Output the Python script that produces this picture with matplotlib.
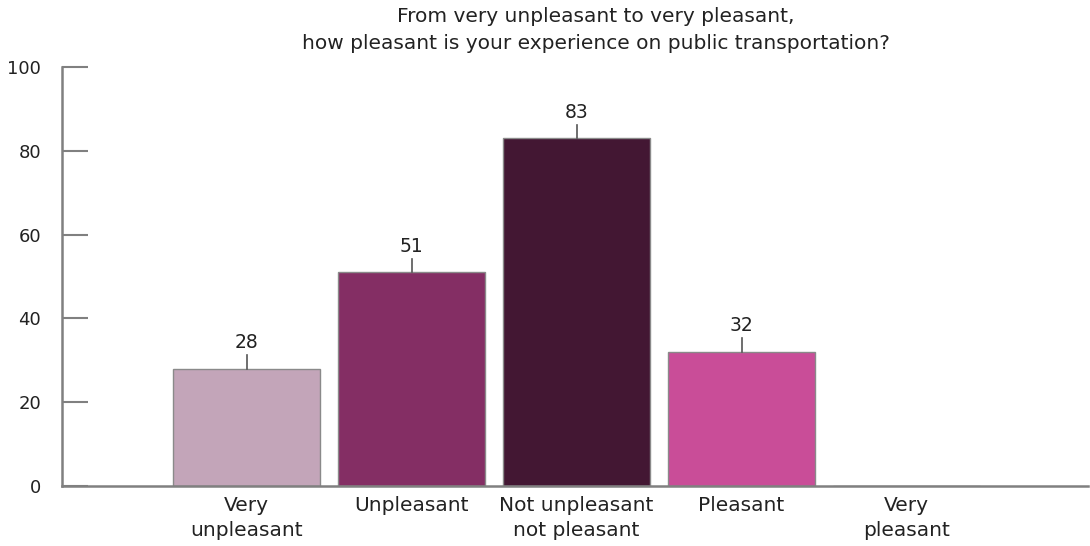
import numpy as np
import matplotlib.pyplot as plt

categories = ['Very\nunpleasant', 'Unpleasant', 'Not unpleasant\nnot pleasant', 'Pleasant', 'Very\npleasant']
values = [28, 51, 83, 32, 0]
colors = ['#C3A5B9', '#842E64', '#431733', '#C94D98', '#E0E0E0']

plt.rcParams['font.family'] = ['DejaVu Sans']

fig = plt.figure(figsize=(10.9, 5.46), dpi=100)
ax = fig.add_axes([0.057, 0.110, 0.941, 0.767])

x = np.arange(len(categories))
bars = ax.bar(x, values, width=0.89, color=colors, edgecolor='#8a8a8a', linewidth=1)

for xi, v in zip(x, values):
    if v <= 0:
        continue
    ax.plot([xi, xi], [v, v + 3.3], color='#555555', lw=1.2)
    ax.text(xi, v + 4.0, str(v), ha='center', va='bottom', fontsize=13.5, color='#222222')

ax.set_xlim(-1.12, 5.1)
ax.set_ylim(0, 100)
ax.set_yticks([0, 20, 40, 60, 80, 100])
ax.set_xticks(x)
ax.set_xticklabels(categories, fontsize=14.5, color='#222222', linespacing=1.4)
ax.tick_params(axis='x', length=0, pad=7)
ax.tick_params(axis='y', direction='in', length=19, width=1.5, color='#808080',
               labelsize=13, labelcolor='#222222', pad=15)

for s in ['top', 'right']:
    ax.spines[s].set_visible(False)
ax.spines['left'].set_color('#808080')
ax.spines['left'].set_linewidth(1.8)
ax.spines['bottom'].set_color('#808080')
ax.spines['bottom'].set_linewidth(1.8)

fig.text(0.547, 0.988, 'From very unpleasant to very pleasant,\nhow pleasant is your experience on public transportation?',
         ha='center', va='top', fontsize=14.5, color='#222222', linespacing=1.55)

fig.savefig('out.png', dpi=100)
